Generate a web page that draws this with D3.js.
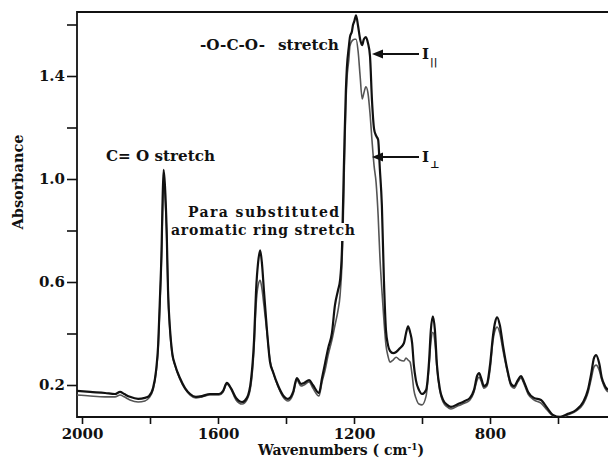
<!DOCTYPE html>
<html>
<head>
<meta charset="utf-8">
<script src="https://cdn.jsdelivr.net/npm/d3@7"></script>
<style>
  body { margin: 0; background: #fff; }
  text { font-family: "DejaVu Serif", "Liberation Serif", serif; font-weight: bold; fill: #111; white-space: pre; }
</style>
</head>
<body>
<div id="chart"></div>
<script>
// wavenumbers (cm-1) shared by both polarisation curves
const wavenumbers = [2015,1976,1932,1903,1888,1876,1859,1835,1815,1803,1791,1782,1776,1771,1766,1763,1760,1756,1751,1747,
  1741,1735,1726,1712,1697,1682,1665,1647,1624,1597,1585,1574,1562,1547,1529,1515,1503,1494,1488,1482,
  1476,1471,1465,1456,1447,1438,1424,1409,1394,1379,1368,1356,1347,1332,1321,1303,1294,1285,1276,1265,
  1256,1247,1241,1235,1232,1228,1224,1221,1215,1212,1206,1203,1199,1194,1188,1182,1176,1171,1165,1159,
  1153,1147,1141,1135,1129,1124,1118,1112,1106,1100,1094,1085,1076,1065,1053,1047,1041,1035,1029,1024,
  1018,1009,1000,988,979,974,968,962,956,947,938,926,915,894,874,859,847,838,832,826,
  818,809,800,791,785,779,771,762,750,738,729,718,709,700,688,671,650,632,615,594,
  571,547,526,512,503,494,488,479,471,462,453];

// absorbance, parallel polarisation (I||)
const absParallel = [0.177,0.173,0.169,0.165,0.173,0.165,0.154,0.146,0.150,0.157,0.188,0.258,0.355,0.529,0.723,0.916,1.036,0.974,0.800,0.568,
  0.413,0.328,0.277,0.227,0.188,0.165,0.154,0.157,0.165,0.165,0.177,0.208,0.188,0.150,0.134,0.150,0.219,0.374,0.568,0.676,
  0.723,0.676,0.568,0.413,0.289,0.250,0.200,0.161,0.146,0.173,0.227,0.204,0.208,0.219,0.200,0.169,0.227,0.285,0.343,0.401,
  0.510,0.568,0.607,0.742,0.916,1.149,1.342,1.431,1.516,1.551,1.574,1.598,1.613,1.636,1.594,1.543,1.520,1.543,1.551,1.528,
  1.478,1.303,1.195,1.168,1.152,1.040,0.897,0.607,0.413,0.355,0.332,0.324,0.328,0.343,0.363,0.401,0.428,0.405,0.363,0.277,
  0.219,0.181,0.165,0.181,0.297,0.413,0.467,0.413,0.277,0.181,0.142,0.123,0.115,0.126,0.138,0.150,0.181,0.235,0.246,0.227,
  0.196,0.204,0.277,0.394,0.444,0.463,0.432,0.355,0.266,0.204,0.196,0.219,0.235,0.212,0.173,0.150,0.142,0.111,0.084,0.076,
  0.088,0.103,0.134,0.181,0.239,0.305,0.316,0.285,0.227,0.196,0.181];

// absorbance, perpendicular polarisation (I⊥)
const absPerpendicular = [0.161,0.157,0.154,0.154,0.161,0.154,0.142,0.134,0.138,0.150,0.181,0.250,0.343,0.510,0.703,0.878,0.982,0.936,0.781,0.560,
  0.405,0.320,0.274,0.223,0.185,0.161,0.150,0.154,0.161,0.161,0.173,0.204,0.185,0.142,0.126,0.142,0.200,0.343,0.510,0.587,
  0.607,0.576,0.510,0.405,0.297,0.250,0.196,0.154,0.138,0.165,0.219,0.196,0.200,0.212,0.188,0.157,0.212,0.258,0.316,0.374,
  0.432,0.490,0.548,0.684,0.819,1.071,1.284,1.381,1.466,1.516,1.536,1.540,1.543,1.543,1.497,1.400,1.311,1.334,1.358,1.334,
  1.257,1.149,1.052,0.986,0.858,0.703,0.568,0.452,0.355,0.312,0.289,0.297,0.308,0.297,0.293,0.305,0.297,0.289,0.239,0.181,
  0.150,0.126,0.123,0.157,0.277,0.366,0.405,0.366,0.266,0.173,0.134,0.115,0.107,0.119,0.130,0.142,0.173,0.219,0.231,0.215,
  0.188,0.196,0.258,0.374,0.413,0.425,0.401,0.336,0.258,0.196,0.188,0.212,0.227,0.204,0.165,0.142,0.130,0.103,0.080,0.072,
  0.084,0.099,0.126,0.169,0.219,0.270,0.277,0.258,0.219,0.188,0.173];

const xMajorTicks = [2000, 1600, 1200, 800];
const xMinorTicks = [1800, 1400, 1000, 600];
const yMajorTicks = [0.2, 0.6, 1.0, 1.4];
const yMinorTicks = [0.4, 0.8, 1.2, 1.6];

const width = 608, height = 458;
const plot = {left: 77, right: 608, top: 12, bottom: 417};

const x = d3.scaleLinear().domain([2000, 800]).range([82, 490]);
const y = d3.scaleLinear().domain([0.2, 1.4]).range([385, 76]);

const svg = d3.select("#chart").append("svg")
    .attr("width", width)
    .attr("height", height);

svg.append("defs").append("clipPath").attr("id", "clip")
  .append("rect")
    .attr("x", plot.left).attr("y", plot.top - 4)
    .attr("width", plot.right - plot.left).attr("height", plot.bottom - plot.top + 4);

// axes
const xAxisMajor = d3.axisBottom(x).tickValues(xMajorTicks).tickSize(7).tickPadding(4).tickFormat(d3.format("d"));
const xAxisMinor = d3.axisBottom(x).tickValues(xMinorTicks).tickSize(7).tickFormat("");
const yAxisMajor = d3.axisLeft(y).tickValues(yMajorTicks).tickSize(10).tickPadding(2).tickFormat(d3.format(".1f"));
const yAxisMinor = d3.axisLeft(y).tickValues(yMinorTicks).tickSize(10).tickFormat("");

function styleAxis(g) {
  g.select(".domain").remove();
  g.selectAll(".tick line").attr("stroke", "#111").attr("stroke-width", 1.6);
  g.selectAll(".tick text").attr("font-size", 15).attr("fill", "#111")
    .attr("font-family", "DejaVu Serif").attr("font-weight", "bold");
}

svg.append("g").attr("transform", `translate(0,${plot.bottom})`).call(xAxisMajor).call(styleAxis);
svg.append("g").attr("transform", `translate(0,${plot.bottom})`).call(xAxisMinor).call(styleAxis);
svg.append("g").attr("transform", `translate(${plot.left},0)`).call(yAxisMajor).call(styleAxis);
svg.append("g").attr("transform", `translate(${plot.left},0)`).call(yAxisMinor).call(styleAxis);

// frame: left, bottom, top
svg.append("path")
    .attr("d", `M${plot.right},${plot.top}H${plot.left}V${plot.bottom}H${plot.right}`)
    .attr("fill", "none").attr("stroke", "#111").attr("stroke-width", 1.8);

// spectra
const line = vals => d3.line()
    .x((d, i) => x(wavenumbers[i]))
    .y(d => y(d))
    .curve(d3.curveMonotoneX)(vals);

const curves = svg.append("g").attr("clip-path", "url(#clip)");
curves.append("path").attr("d", line(absPerpendicular))
    .attr("fill", "none").attr("stroke", "#555").attr("stroke-width", 1.6);
curves.append("path").attr("d", line(absParallel))
    .attr("fill", "none").attr("stroke", "#111").attr("stroke-width", 2.2);

// axis titles
svg.append("text")
    .attr("transform", "translate(23,182) rotate(-90)")
    .attr("text-anchor", "middle")
    .attr("font-size", 14.5)
    .text("Absorbance");

const xt = svg.append("text")
    .attr("x", 341).attr("y", 455)
    .attr("text-anchor", "middle")
    .attr("font-size", 14);
xt.append("tspan").text("Wavenumbers ( cm");
xt.append("tspan").attr("font-size", 9).attr("dy", -5).text("-1");
xt.append("tspan").attr("dy", 5).text(")");

// annotations
function label(tx, ty, str, len) {
  const t = svg.append("text").attr("x", tx).attr("y", ty).attr("font-size", 14).text(str);
  if (len) t.attr("textLength", len).attr("lengthAdjust", "spacingAndGlyphs");
  return t;
}
label(106, 161, "C= O stretch", 109);
label(200, 50, "-O-C-O-", 65);
label(278, 50, "stretch", 61);

const ring = svg.append("g");
const bg = ring.append("rect").attr("fill", "#fff");
const t1 = ring.append("text").attr("x", 188).attr("y", 217).attr("font-size", 14)
    .attr("textLength", 151).attr("lengthAdjust", "spacing").text("Para substituted");
const t2 = ring.append("text").attr("x", 171).attr("y", 235).attr("font-size", 14)
    .attr("textLength", 184).attr("lengthAdjust", "spacing").text("aromatic ring stretch");
const b2 = t2.node().getBBox();
bg.attr("x", b2.x - 1).attr("y", b2.y + 1).attr("width", b2.width + 3).attr("height", b2.height + 2);

// polarisation arrows
const arrows = [{yv: 54, main: "I", sub: "||"}, {yv: 157, main: "I", sub: "\u22a5"}];
arrows.forEach(a => {
  svg.append("line").attr("x1", 380).attr("x2", 419).attr("y1", a.yv).attr("y2", a.yv)
      .attr("stroke", "#111").attr("stroke-width", 2);
  svg.append("path").attr("d", `M372,${a.yv}L383,${a.yv - 4.5}L383,${a.yv + 4.5}Z`).attr("fill", "#111");
  svg.append("text").attr("x", 422).attr("y", a.yv + 5).attr("font-size", 15).text(a.main);
  svg.append("text").attr("x", 430).attr("y", a.yv + 11).attr("font-size", 10)
      .attr("font-weight", "normal").attr("fill", "#777").attr("font-family", "DejaVu Sans").text(a.sub);
});
</script>
</body>
</html>
